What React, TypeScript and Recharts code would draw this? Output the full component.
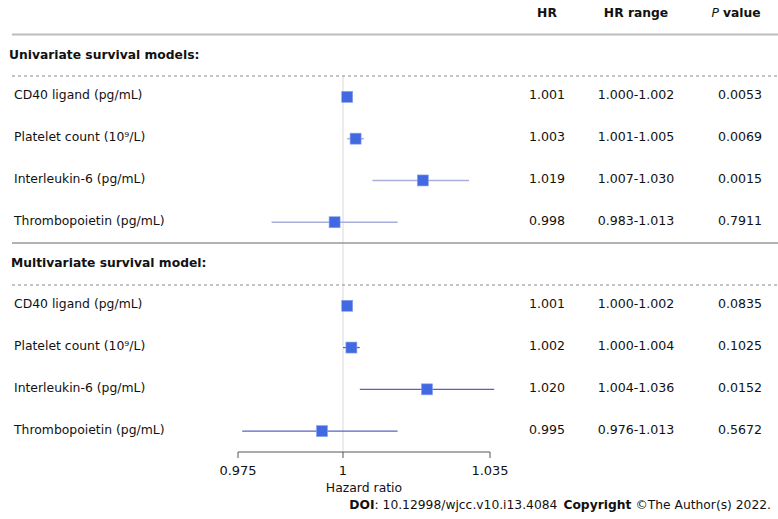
import React from "react";
import { ScatterChart, Scatter, XAxis, YAxis, ErrorBar, ReferenceLine } from "recharts";

// ---- data ----
const rowLabels = [
  "CD40 ligand (pg/mL)",
  "Platelet count (10\u2079/L)",
  "Interleukin-6 (pg/mL)",
  "Thrombopoietin (pg/mL)",
];
const uniRows = [0, 1, 2, 3];
const uniHR = [1.001, 1.003, 1.019, 0.998];
const uniLow = [1.0, 1.001, 1.007, 0.983];
const uniHigh = [1.002, 1.005, 1.03, 1.013];
const uniP = ["0.0053", "0.0069", "0.0015", "0.7911"];

const multiRows = [5, 6, 7, 8];
const multiHR = [1.001, 1.002, 1.02, 0.995];
const multiLow = [1.0, 1.0, 1.004, 0.976];
const multiHigh = [1.002, 1.004, 1.036, 1.013];
const multiP = ["0.0835", "0.1025", "0.0152", "0.5672"];

const xTicks = [0.975, 1, 1.035];
const xDomain = [0.975, 1.035];
const rowDomain = [-0.5, 8.5];

const build = (rows: number[], hr: number[], lo: number[], hi: number[], p: string[]) =>
  rows.map((r, i) => ({
    y: r,
    x: hr[i],
    err: [hr[i] - lo[i], hi[i] - hr[i]],
    label: rowLabels[i],
    hrText: hr[i].toFixed(3),
    rangeText: `${lo[i].toFixed(3)}-${hi[i].toFixed(3)}`,
    pText: p[i],
  }));

const uniData = build(uniRows, uniHR, uniLow, uniHigh, uniP);
const multiData = build(multiRows, multiHR, multiLow, multiHigh, multiP);
const allRows = [...uniData, ...multiData];
const rowTicks = allRows.map((r) => r.y);

const FONT = "'DejaVu Sans', Verdana, sans-serif";

const Square = (props: any) => {
  const { cx, cy } = props;
  if (cx == null || cy == null) return null;
  const s = 11;
  return (
    <rect x={cx - s / 2} y={cy - s / 2} width={s} height={s} fill="#4169E1" stroke="#8aa2ec" strokeWidth={0.6} />
  );
};

const renderRowTick = (props: any) => {
  const { y, payload, index } = props;
  const v = payload && payload.value != null ? Number(payload.value) : NaN;
  const row = allRows.find((r) => Math.abs(r.y - v) < 1e-6) || allRows[index];
  if (!row) return <g />;
  const ty = y - 2;
  return (
    <g key={`row-${row.y}`} fontFamily={FONT}>
      <text x={14} y={ty} dominantBaseline="central" fontSize={12.4} textAnchor="start" fill="#111">
        {row.label}
      </text>
      <text x={547} y={ty} dominantBaseline="central" fontSize={12.6} textAnchor="middle" fill="#111">
        {row.hrText}
      </text>
      <text x={636} y={ty} dominantBaseline="central" fontSize={12.6} textAnchor="middle" fill="#111">
        {row.rangeText}
      </text>
      <text x={740} y={ty} dominantBaseline="central" fontSize={12.6} textAnchor="middle" fill="#111">
        {row.pText}
      </text>
    </g>
  );
};

export default function App() {
  return (
    <div style={{ position: "absolute", left: 0, top: 0, width: 778, height: 519, background: "#fff", fontFamily: FONT }}>
      <ScatterChart width={778} height={519} margin={{ top: 76, right: 288, bottom: 0, left: 218 }}>
        <XAxis
          dataKey="x"
          type="number"
          domain={xDomain}
          allowDataOverflow
          ticks={xTicks}
          interval={0}
          height={67}
          tickSize={6}
          tickMargin={8}
          stroke="#555"
          tick={{ fill: "#111", fontSize: 13, fontFamily: FONT }}
          label={{ value: "Hazard ratio", position: "insideBottom", offset: 27, fill: "#111", fontSize: 12.4, fontFamily: FONT }}
        />
        <YAxis
          dataKey="y"
          type="number"
          domain={rowDomain}
          reversed
          width={20}
          ticks={rowTicks}
          interval={0}
          axisLine={false}
          tickLine={false}
          tick={renderRowTick}
        />
        <ReferenceLine x={1} stroke="#d9d9d9" strokeWidth={1} />
        <Scatter data={uniData} shape={<Square />} isAnimationActive={false}>
          <ErrorBar dataKey="err" direction="x" width={0} stroke="#a9aedc" strokeWidth={1.5} isAnimationActive={false} />
        </Scatter>
        <Scatter data={multiData} shape={<Square />} isAnimationActive={false}>
          <ErrorBar dataKey="err" direction="x" width={0} stroke="#5a62c4" strokeWidth={1.3} isAnimationActive={false} />
        </Scatter>
      </ScatterChart>
      <svg
        width={778}
        height={519}
        style={{ position: "absolute", left: 0, top: 0, pointerEvents: "none" }}
        fontFamily={FONT}
      >
        <line x1={12} x2={778} y1={34.5} y2={34.5} stroke="#bdbdbd" strokeWidth={2} />
        <line x1={12} x2={778} y1={76} y2={76} stroke="#8a8a8a" strokeWidth={1} strokeDasharray="3 3" />
        <line x1={12} x2={778} y1={243} y2={243} stroke="#999" strokeWidth={1.5} />
        <line x1={12} x2={778} y1={285} y2={285} stroke="#8a8a8a" strokeWidth={1} strokeDasharray="3 3" />
        <text x={547} y={13} textAnchor="middle" dominantBaseline="central" fontSize={12.3} fontWeight="bold" fill="#111">
          HR
        </text>
        <text x={636} y={13} textAnchor="middle" dominantBaseline="central" fontSize={12.3} fontWeight="bold" fill="#111">
          HR range
        </text>
        <text x={736} y={13} textAnchor="middle" dominantBaseline="central" fontSize={12.3} fontWeight="bold" fill="#111">
          <tspan fontStyle="italic" fontWeight="normal">P</tspan>
          <tspan dx={4}>value</tspan>
        </text>
        <text x={9} y={55} dominantBaseline="central" fontSize={12.3} fontWeight="bold" fill="#111">
          Univariate survival models:
        </text>
        <text x={11} y={263} dominantBaseline="central" fontSize={12.3} fontWeight="bold" fill="#111">
          Multivariate survival model:
        </text>
        <text x={771} y={505} textAnchor="end" dominantBaseline="central" fontSize={12.3} fill="#111">
          <tspan fontWeight="bold">DOI</tspan>
          <tspan>: 10.12998/wjcc.v10.i13.4084</tspan>
          <tspan dx={6} fontWeight="bold">Copyright</tspan>
          <tspan dx={4}>©The Author(s) 2022.</tspan>
        </text>
      </svg>
    </div>
  );
}
